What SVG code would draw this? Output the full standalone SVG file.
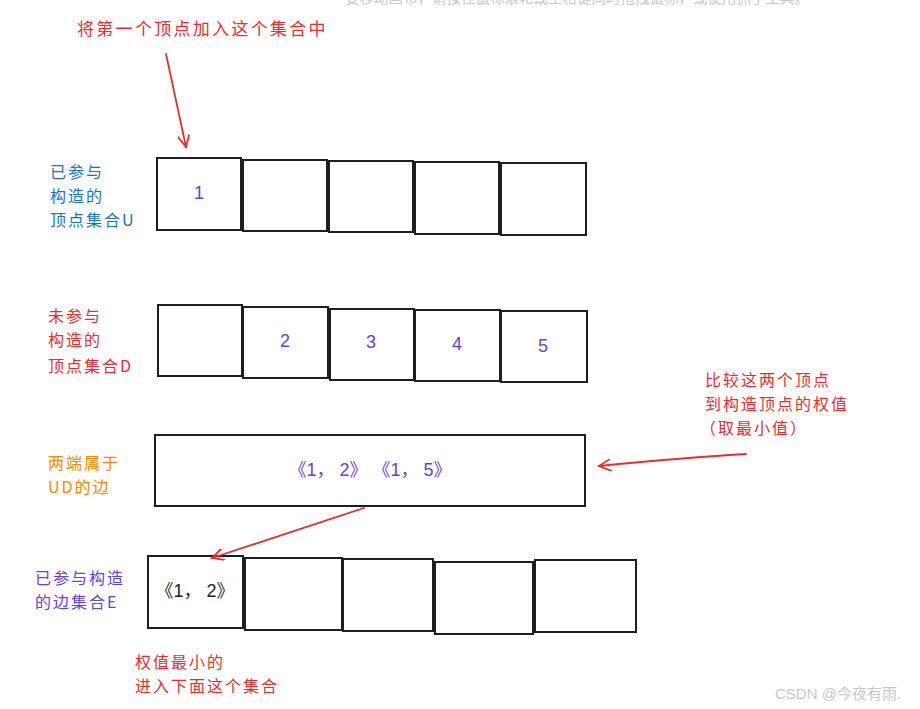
<svg xmlns="http://www.w3.org/2000/svg" width="920" height="709" viewBox="0 0 920 709">
<defs>
<style>
.box{fill:#fff;stroke:#1e1e1e;stroke-width:2}
.t{font-family:"Noto Sans CJK SC","Noto Sans",sans-serif;font-size:16px;letter-spacing:2px}
.num{font-family:"Liberation Sans","Noto Sans CJK SC",sans-serif;font-size:18px;fill:#6741d9;text-anchor:middle}
.red{fill:#e03131}.blue{fill:#1971c2}.orange{fill:#f08c00}.purple{fill:#6741d9}
.arrow{fill:none;stroke:#e03131;stroke-width:1.8;stroke-linecap:round}
</style>
<marker id="ah" markerWidth="14" markerHeight="12" refX="12" refY="6" orient="auto" markerUnits="userSpaceOnUse">
<path d="M0,0 L12,6 L0,12" fill="none" stroke="#e03131" stroke-width="1.8" stroke-linecap="round"/>
</marker>
</defs>
<rect width="920" height="709" fill="#fff"/>
<text x="345" y="3" font-family="'Noto Sans CJK SC',sans-serif" font-size="14.5" fill="#c8c8c8">要移动画布，请按住鼠标滚轮或空格键同时拖拽鼠标，或使用抓手工具。</text>

<g id="note-top"><text class="t red" x="77" y="35" style="font-size:17px;letter-spacing:2.3px">将第一个顶点加入这个集合中</text></g>

<g id="label-U"><text class="t blue" x="50" y="178">已参与</text><text class="t blue" x="50" y="202">构造的</text><text class="t blue" x="50" y="226">顶点集合U</text></g>
<g id="set-U">
<rect class="box" x="157" y="158" width="84" height="72"/>
<rect class="box" x="243" y="160" width="84" height="71"/>
<rect class="box" x="329" y="161" width="84" height="71"/>
<rect class="box" x="415" y="162" width="84" height="72"/>
<rect class="box" x="501" y="163" width="85" height="72"/>
<text class="num" x="199" y="199">1</text>
</g>

<g id="label-D"><text class="t red" x="48" y="322">未参与</text><text class="t red" x="48" y="346">构造的</text><text class="t red" x="48" y="372">顶点集合D</text></g>
<g id="set-D">
<rect class="box" x="158" y="305" width="84" height="71"/>
<rect class="box" x="243" y="307" width="85" height="71"/>
<rect class="box" x="330" y="309" width="84" height="71"/>
<rect class="box" x="415" y="310" width="85" height="71"/>
<rect class="box" x="501" y="311" width="86" height="71"/>
<text class="num" x="285" y="347">2</text>
<text class="num" x="371" y="348">3</text>
<text class="num" x="457" y="350">4</text>
<text class="num" x="543" y="352">5</text>
</g>

<g id="label-UD"><text class="t orange" x="48" y="469">两端属于</text><text class="t orange" x="48" y="493">UD的边</text></g>
<g id="edges-UD">
<rect class="box" x="155" y="435" width="430" height="71"/>
<text class="num" x="370" y="476" xml:space="preserve">《1， 2》 《1， 5》</text>
</g>

<g id="note-compare"><text class="t red" x="705" y="386">比较这两个顶点</text><text class="t red" x="705" y="410">到构造顶点的权值</text><text class="t red" x="700" y="434">（取最小值）</text></g>

<g id="label-E"><text class="t purple" x="35" y="584">已参与构造</text><text class="t purple" x="35" y="608">的边集合E</text></g>
<g id="set-E">
<rect class="box" x="148" y="556" width="95" height="72"/>
<rect class="box" x="245" y="558" width="97" height="72"/>
<rect class="box" x="343" y="559" width="90" height="72"/>
<rect class="box" x="435" y="562" width="98" height="72"/>
<rect class="box" x="535" y="560" width="101" height="72"/>
<text class="num" x="195" y="597" style="fill:#1e1e1e" xml:space="preserve">《1， 2》</text>
</g>

<g id="note-min"><text class="t red" x="135" y="668">权值最小的</text><text class="t red" x="135" y="692">进入下面这个集合</text></g>

<g id="connectors">
<path class="arrow" d="M166,54 L186,147" marker-end="url(#ah)"/>
<path class="arrow" d="M746,454 Q680,458 599,466" marker-end="url(#ah)"/>
<path class="arrow" d="M364,508 L212,558" marker-end="url(#ah)"/>
</g>

<text x="775" y="699" font-family="'Liberation Sans','Noto Sans CJK SC',sans-serif" font-size="15" fill="#c8c8c8">CSDN @今夜有雨.</text>
</svg>
